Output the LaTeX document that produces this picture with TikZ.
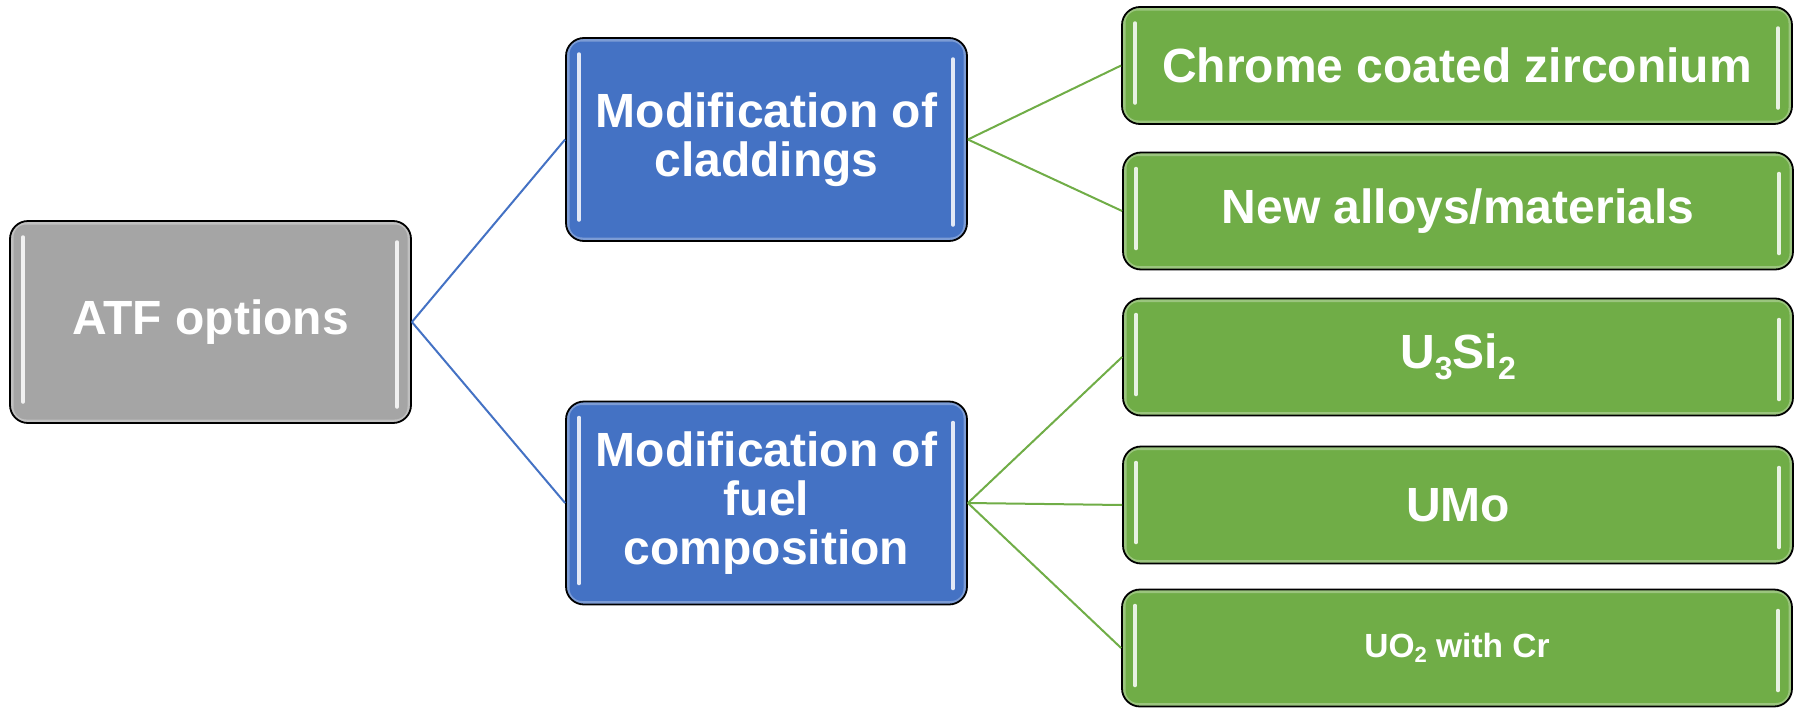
\documentclass[tikz,border=0pt]{standalone}
\usepackage{fontspec}
\setmainfont{Liberation Sans}
\definecolor{boxgray}{HTML}{A5A5A5}
\definecolor{boxblue}{HTML}{4472C4}
\definecolor{boxgreen}{HTML}{70AD47}
\newcommand{\lowsub}[1]{\raisebox{-0.22em}{\fontsize{32}{32}\selectfont #1}}
\tikzset{
  glossbox/.style={draw=black, line width=1.8pt, rounded corners=18pt, fill=#1,
    text=white, font=\bfseries\fontsize{48}{49}\selectfont, align=center,
    inner sep=0pt,
    path picture={
      \draw[white, opacity=0.3, line width=7pt, rounded corners=16pt]
        (path picture bounding box.north west) rectangle (path picture bounding box.south east);
      \draw[white, opacity=0.85, line width=3.5pt, line cap=round]
        ([xshift=13pt,yshift=-16pt]path picture bounding box.north west) --
        ([xshift=13pt,yshift=21pt]path picture bounding box.south west);
      \draw[white, opacity=0.85, line width=3.5pt, line cap=round]
        ([xshift=-14pt,yshift=-21pt]path picture bounding box.north east) --
        ([xshift=-14pt,yshift=16pt]path picture bounding box.south east);
    }},
  rootbox/.style={glossbox=boxgray, minimum width=401pt, minimum height=202pt},
  midbox/.style={glossbox=boxblue, minimum width=401pt, minimum height=203pt},
  leafbox/.style={glossbox=boxgreen, minimum width=670pt, minimum height=117pt},
  blueline/.style={draw=boxblue, line width=2pt},
  greenline/.style={draw=boxgreen, line width=2pt}
}
\begin{document}
\begin{tikzpicture}[x=1pt,y=-1pt]
\useasboundingbox (0,0) rectangle (1802,707);
\node[rootbox] (atf) at (210.5,322) {ATF options};
\node[midbox] (clad) at (766.5,139.5) {Modification of\\claddings};
\node[midbox] (fuel) at (766.5,503) {Modification of\\fuel\\composition};
\node[leafbox] (chrome) at (1457,65.5) {Chrome coated zirconium};
\node[leafbox] (alloys) at (1458,211) {New alloys/materials};
\node[leafbox] (usi) at (1458,357) {U\lowsub{3}Si\lowsub{2}};
\node[leafbox] (umo) at (1458,505) {UMo};
\node[leafbox, font=\bfseries\fontsize{33.5}{35}\selectfont] (uo) at (1457,648) {UO{\fontsize{22}{22}\selectfont\raisebox{-0.22em}{2}} with Cr};
\path[blueline] (atf.east) -- (clad.west);
\path[blueline] (atf.east) -- (fuel.west);
\path[greenline] (clad.east) -- (chrome.west);
\path[greenline] (clad.east) -- (alloys.west);
\path[greenline] (fuel.east) -- (usi.west);
\path[greenline] (fuel.east) -- (umo.west);
\path[greenline] (fuel.east) -- (uo.west);
\end{tikzpicture}
\end{document}
